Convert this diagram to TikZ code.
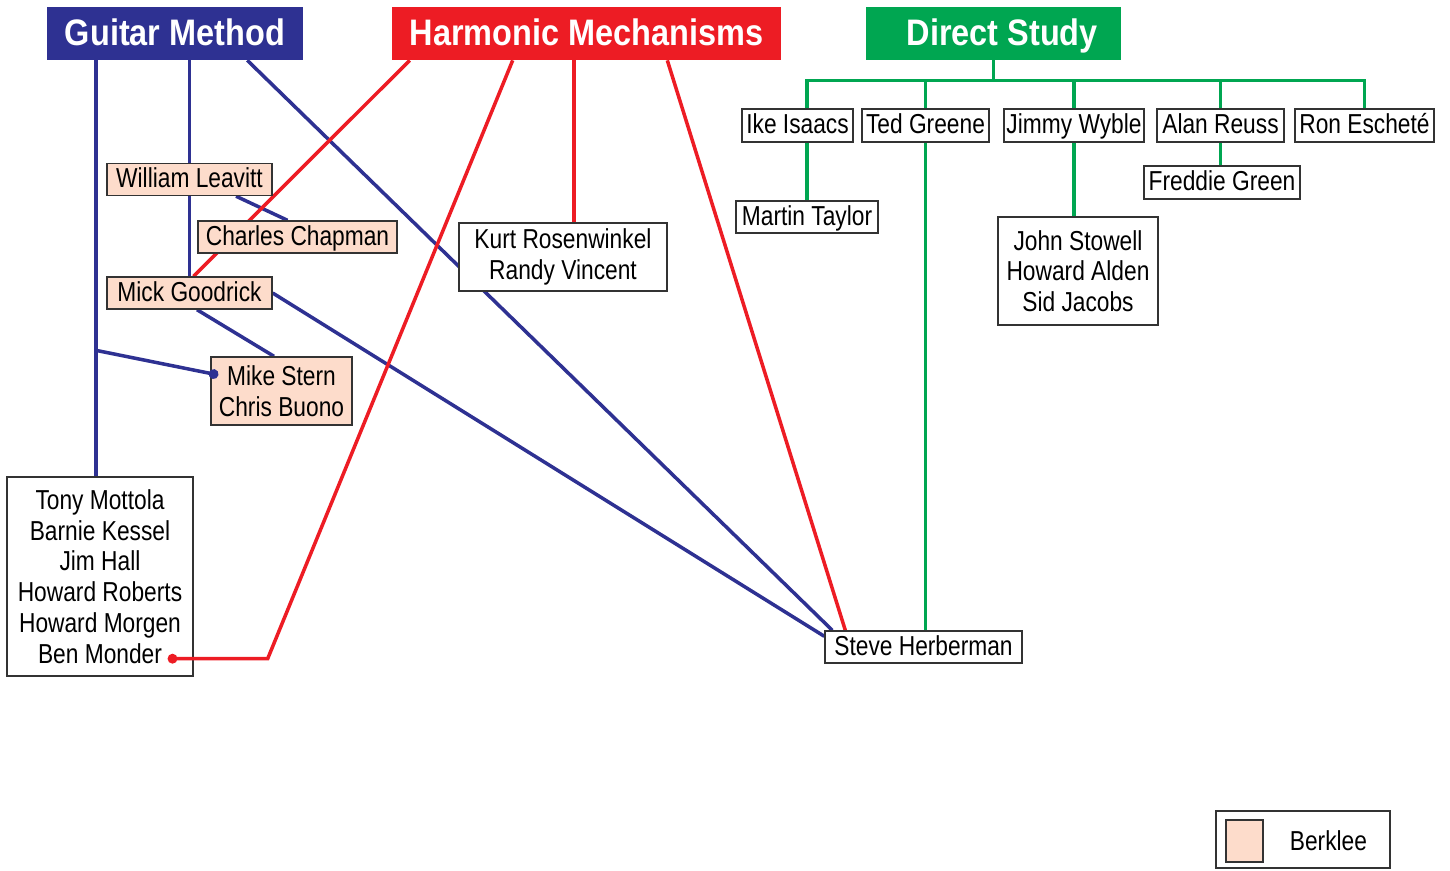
\documentclass[tikz,border=0pt]{standalone}
\usepackage{fontspec}
\setmainfont[FakeStretch=0.83]{Liberation Sans}
\newfontfamily\headfont[FakeStretch=0.88]{Liberation Sans}
\usetikzlibrary{
  arrows.meta,
  positioning,
  calc,
  backgrounds
}
\definecolor{gmblue}{HTML}{2E3192}
\definecolor{hmred}{HTML}{ED1C24}
\definecolor{dsgreen}{HTML}{00A651}
\definecolor{berkpeach}{HTML}{FDDCCB}
\definecolor{boxgray}{HTML}{333333}

\begin{document}
\begin{tikzpicture}[
  x=0.02cm, y=-0.02cm,
  headbox/.style={minimum height=1.06cm, inner sep=0pt, text=white,
    text height=15.3pt, text depth=1.5pt,
    font=\headfont\fontsize{21}{24}\selectfont\bfseries},
  person/.style={draw=boxgray, line width=0.8pt, fill=white, minimum height=0.64cm,
    inner sep=0pt, align=center, font=\fontsize{15.6}{17.5}\selectfont},
  oneline/.style={text height=11.4pt, text depth=2pt},
  berkbox/.style={person, fill=berkpeach},
  gmline/.style={draw=gmblue, line width=2pt},
  hmline/.style={draw=hmred, line width=2pt},
  dsline/.style={draw=dsgreen, line width=2pt},
  enddot/.style={-{Circle[length=5.5pt, width=5.5pt]}}
]
  \useasboundingbox (0,0) rectangle (1450,870);

  % --- Headers ---
  \node[headbox, fill=gmblue, minimum width=5.12cm] (gm) at (175,33.5) {Guitar Method};
  \node[headbox, fill=hmred, minimum width=7.78cm] (hm) at (586.5,33.5) {Harmonic Mechanisms};
  \node[headbox, fill=dsgreen, minimum width=5.1cm] (ds) at (993.5,33.5) {\hspace{10pt}Direct Study};

  % --- Guitar Method side ---
  \node[berkbox, oneline, minimum width=3.3cm] (wl) at (189.5,179.5) {William Leavitt};
  \node[berkbox, oneline, minimum width=3.98cm] (cc) at (297.5,237) {Charles Chapman};
  \node[berkbox, oneline, minimum width=3.3cm] (mg) at (189.5,293) {Mick Goodrick};
  \node[berkbox, minimum width=2.82cm, minimum height=1.36cm] (ms) at (281.5,391)
    {Mike Stern\\Chris Buono};
  \node[person, minimum width=3.72cm, minimum height=3.98cm] (tm) at (100,576.5)
    {Tony Mottola\\Barnie Kessel\\Jim Hall\\Howard Roberts\\Howard Morgen\\Ben Monder};

  % --- Harmonic Mechanisms side ---
  \node[person, minimum width=4.16cm, minimum height=1.36cm] (kr) at (563,257)
    {Kurt Rosenwinkel\\Randy Vincent};
  \node[person, oneline, minimum width=3.94cm] (sh) at (923.5,647) {Steve Herberman};

  % --- Direct Study side ---
  \node[person, oneline, minimum width=2.22cm, minimum height=0.66cm] (ike) at (797.5,125.5) {Ike Isaacs};
  \node[person, oneline, minimum width=2.54cm, minimum height=0.66cm] (ted) at (925.5,125.5) {Ted Greene};
  \node[person, oneline, minimum width=2.8cm, minimum height=0.66cm] (jw) at (1074,125.5) {Jimmy Wyble};
  \node[person, oneline, minimum width=2.54cm, minimum height=0.66cm] (ar) at (1220.5,125.5) {Alan Reuss};
  \node[person, oneline, minimum width=2.78cm, minimum height=0.66cm] (re) at (1364.5,125.5) {Ron Escheté};
  \node[person, oneline, minimum width=3.12cm, minimum height=0.66cm] (fg) at (1222,182.5) {Freddie Green};
  \node[person, oneline, minimum width=2.84cm] (mt) at (807,217) {Martin Taylor};
  \node[person, minimum width=3.2cm, minimum height=2.16cm] (js) at (1078,271)
    {John Stowell\\Howard Alden\\Sid Jacobs};

  % --- Legend ---
  \node[person, minimum width=3.48cm, minimum height=1.14cm] (legend) at (1303,839.5) {};
  \node[berkbox, minimum width=0.74cm, minimum height=0.84cm] (swatch) at (1244.5,841) {};
  \node[font=\fontsize{15.6}{17.5}\selectfont, right=0.4cm of swatch] (leglabel) {Berklee};

  % connector end points
  \coordinate (gmknee) at ($(gm.south -| tm.north)+(-4,0)$);
  \coordinate (gmbend) at ($(gmknee)+(0,290)$);
  \coordinate (msdot) at ($(ms.west)+(8,-16)$);
  \coordinate (bmdot) at ($(tm.south east)+(-26,-18)$);
  \coordinate (hmknee) at ($(bmdot)+(100,0)$);
  \coordinate (krtop) at ($(kr.north)+(11,0)$);

  \begin{scope}[on background layer]
    % Guitar Method
    \draw[gmline] (gmknee) -- (gmknee |- tm.north);
    \draw[gmline] (gm.south -| wl.north) -- (wl.north);
    \draw[gmline] (wl.south) -- (mg.north);
    \draw[gmline] ($(wl.south)+(46.5,0)$) -- ($(cc.north)+(-10,0)$);
    \draw[gmline] ($(mg.south)+(7.5,0)$) -- ($(ms.north)+(-7.5,0)$);
    \draw[gmline] ($(gm.south east)+(-56,0)$) -- ($(sh.north west)+(8,0)$);
    \draw[gmline] (mg.east) -- ($(sh.north west)+(0,6)$);

    % Harmonic Mechanisms
    \draw[hmline] ($(hm.south west)+(18,0)$) -- ($(mg.north)+(4,0)$);
    \draw[hmline] (krtop |- hm.south) -- (krtop);
    \draw[hmline] ($(hm.south east)+(-114,0)$) -- ($(sh.north west)+(21,0)$);

    % Direct Study
    \draw[dsline] (ds.south) -- ++(0,20) -| (ike.north -| mt.north);
    \foreach \n in {ted,jw,ar,re}
      \draw[dsline] (ds.south) -- ++(0,20) -| (\n.north);
    \draw[dsline] (ike.south -| mt.north) -- (mt.north);
    \draw[dsline] (ted.south) -- (ted.south |- sh.north);
    \draw[dsline] (jw.south) -- (jw.south |- js.north);
    \draw[dsline] (ar.south) -- (ar.south |- fg.north);
  \end{scope}

  % connectors that run into a box, ending in a dot
  \draw[gmline, enddot] (gmbend) -- (msdot);
  \draw[hmline, enddot] ($(hm.south west)+(121,0)$) -- (hmknee) -- (bmdot);

\end{tikzpicture}
\end{document}
